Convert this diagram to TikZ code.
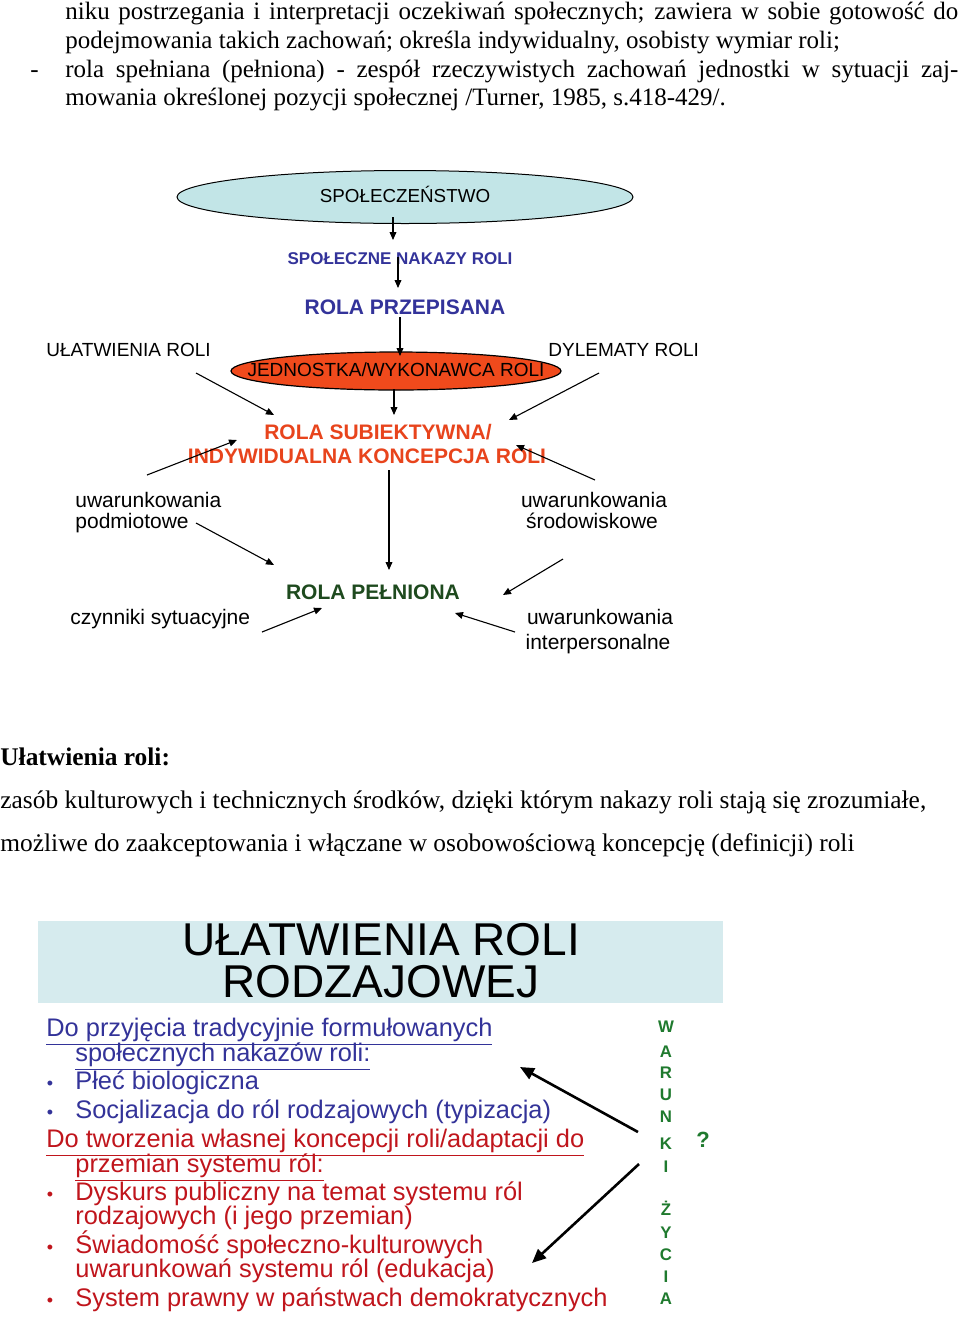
\documentclass[tikz,border=0pt]{standalone}
\usepackage{fontspec}
\setmainfont{Liberation Serif}
\newfontfamily\arial{Liberation Sans}
\usetikzlibrary{shapes.geometric,arrows.meta}

\definecolor{Society}{HTML}{C2E5E7}
\definecolor{Unit}{HTML}{F04A1C}
\definecolor{Nakaz}{HTML}{33339A}
\definecolor{Subj}{HTML}{E8441C}
\definecolor{Peln}{HTML}{1E4A1E}
\definecolor{BoxFill}{HTML}{D6EBEE}
\definecolor{ListBlue}{HTML}{333399}
\definecolor{ListRed}{HTML}{C0151C}
\definecolor{Warunki}{HTML}{1F7A2E}

\begin{document}
\begin{tikzpicture}[x=0.5pt, y=-0.5pt,
  every node/.style={inner sep=0pt, text height=.72em, text depth=.22em},
  serif/.style={font=\fontsize{12.5}{14}\selectfont},
  serifb/.style={font=\fontsize{12.7}{14}\selectfont},
  lab/.style={font=\arial\fontsize{9.5}{11}\selectfont},
  small/.style={font=\arial\fontsize{10.5}{12}\selectfont},
  head/.style={font=\arial\bfseries\fontsize{10.5}{12}\selectfont},
  title/.style={font=\arial\fontsize{23}{26}\selectfont, text height=.72em, text depth=0pt},
  item/.style={font=\arial\fontsize{12.7}{14}\selectfont},
  dot/.style={font=\arial\fontsize{9}{10}\selectfont},
  letter/.style={font=\arial\bfseries\fontsize{8.4}{10}\selectfont, text=Warunki},
  arr/.style={-{Triangle[length=4pt,width=3.4pt]}, line width=0.55pt},
  bigarr/.style={-{Triangle[length=7pt,width=6pt]}, line width=1.3pt}]

 \fill [white] (0,0) rectangle (960,1318) ;
 \useasboundingbox (0,0) rectangle (960,1318) ;

 %%%%%%%%%% Tekst nad schematem %%%%%%%%%%
 \node [serif, anchor=west] (top1) at (65,14) {\makebox[446.5pt][s]{niku postrzegania i interpretacji oczekiwań społecznych; zawiera w sobie gotowość do}};
 \node [serif, anchor=west] (top2) at (65,43) {podejmowania takich zachowań; określa indywidualny, osobisty wymiar roli;};
 \node [serif, anchor=west] (dash) at (30,72) {-};
 \node [serif, anchor=west] (top3) at (65,72) {\makebox[446.5pt][s]{rola spełniana (pełniona) - zespół rzeczywistych zachowań jednostki w sytuacji zaj-}};
 \node [serif, anchor=west] (top4) at (65,100) {mowania określonej pozycji społecznej /Turner, 1985, s.418-429/.};

 %%%%%%%%%% Schemat %%%%%%%%%%
 \node [ellipse, draw, fill=Society, line width=0.5pt, minimum width=228pt, minimum height=26.5pt, font=\arial\fontsize{9.4}{11}\selectfont] (society) at (405,197) {SPOŁECZEŃSTWO};
 \node [font=\arial\bfseries\fontsize{8.5}{10}\selectfont, text=Nakaz] (nakazy) at (400,259) {SPOŁECZNE NAKAZY ROLI};
 \node [head, text=Nakaz] (przepis) at (405,309) {ROLA PRZEPISANA};
 \node [ellipse, draw, fill=Unit, line width=0.6pt, minimum width=165pt, minimum height=19pt, lab] (unit) at (396,371) {\makebox[0pt]{JEDNOSTKA/WYKONAWCA ROLI}};
 \node [lab, anchor=west] (ulatw) at (46,351) {UŁATWIENIA ROLI};
 \node [lab, anchor=west] (dylem) at (548,351) {DYLEMATY ROLI};
 \node [head, text=Subj] (subj1) at (378,434) {ROLA SUBIEKTYWNA/};
 \node [head, text=Subj] (subj2) at (367,458) {INDYWIDUALNA KONCEPCJA ROLI};
 \node [small, anchor=west] (pod1) at (75,502) {uwarunkowania};
 \node [small, anchor=west] (pod2) at (75,523) {podmiotowe};
 \node [small] (sro1) at (594,502) {uwarunkowania};
 \node [small] (sro2) at (592,523) {środowiskowe};
 \node [head, text=Peln] (peln) at (373,594) {ROLA PEŁNIONA};
 \node [small, anchor=west] (czyn) at (70,619) {czynniki sytuacyjne};
 \node [small] (int1) at (600,619) {uwarunkowania};
 \node [small] (int2) at (598,644) {interpersonalne};

 %%%%%%%%%% Punkty strzalek %%%%%%%%%%
 \coordinate (a1) at (393,217);  \coordinate (b1) at (393,240);
 \coordinate (a2) at (398,257);  \coordinate (b2) at (398,288);
 \coordinate (a3) at (400,317);  \coordinate (b3) at (400,356);
 \coordinate (a4) at (196,373);  \coordinate (b4) at (274,415);
 \coordinate (a5) at (599,373);  \coordinate (b5) at (509,420);
 \coordinate (a6) at (394,389);  \coordinate (b6) at (394,415);
 \coordinate (a7) at (147,475);  \coordinate (b7) at (237,440);
 \coordinate (a8) at (595,480);  \coordinate (b8) at (516,445);
 \coordinate (a9) at (389,470);  \coordinate (b9) at (389,570);
 \coordinate (a10) at (196,523); \coordinate (b10) at (274,565);
 \coordinate (a11) at (563,559); \coordinate (b11) at (503,595);
 \coordinate (a12) at (262,632); \coordinate (b12) at (322,608);
 \coordinate (a13) at (515,632); \coordinate (b13) at (455,613);

 \foreach \i in {1,...,13}
 {
   \draw [arr] (a\i) -- (b\i) ;
 }

 %%%%%%%%%% Ulatwienia roli %%%%%%%%%%
 \node [font=\bfseries\fontsize{12.7}{14}\selectfont, anchor=west] (ulhead) at (0,760) {Ułatwienia roli:};
 \node [serifb, anchor=west] (zasob) at (0,803) {zasób kulturowych i technicznych środków, dzięki którym nakazy roli stają się zrozumiałe,};
 \node [serifb, anchor=west] (mozl) at (0,846) {możliwe do zaakceptowania i włączane w osobowościową koncepcję (definicji) roli};

 %%%%%%%%%% Ramka rodzajowa %%%%%%%%%%
 \fill [BoxFill] (38,921) rectangle (723,1003) ;
 \node [title] (tit1) at (381,948) {UŁATWIENIA ROLI};
 \node [title] (tit2) at (381,990) {RODZAJOWEJ};

 \node [item, anchor=west, text=ListBlue] (przyj1) at (46,1031) {\underline{Do przyjęcia tradycyjnie formułowanych}};
 \node [item, anchor=west, text=ListBlue] (przyj2) at (75,1056) {\underline{społecznych nakazów roli:}};
 \node [dot, text=ListBlue] (dot1) at (50,1084) {•};
 \node [item, anchor=west, text=ListBlue] (plec) at (75,1084) {Płeć biologiczna};
 \node [dot, text=ListBlue] (dot2) at (50,1113) {•};
 \node [item, anchor=west, text=ListBlue] (socj) at (75,1113) {Socjalizacja do ról rodzajowych (typizacja)};
 \node [item, anchor=west, text=ListRed] (tworz1) at (46,1142) {\underline{Do tworzenia własnej koncepcji roli/adaptacji do}};
 \node [item, anchor=west, text=ListRed] (tworz2) at (75,1167) {\underline{przemian systemu ról:}};
 \node [dot, text=ListRed] (dot3) at (50,1195) {•};
 \node [item, anchor=west, text=ListRed] (dysk1) at (75,1195) {Dyskurs publiczny na temat systemu ról};
 \node [item, anchor=west, text=ListRed] (dysk2) at (75,1219) {rodzajowych (i jego przemian)};
 \node [dot, text=ListRed] (dot4) at (50,1248) {•};
 \node [item, anchor=west, text=ListRed] (swiad1) at (75,1248) {Świadomość społeczno-kulturowych};
 \node [item, anchor=west, text=ListRed] (swiad2) at (75,1272) {uwarunkowań systemu ról (edukacja)};
 \node [dot, text=ListRed] (dot5) at (50,1301) {•};
 \node [item, anchor=west, text=ListRed] (prawo) at (75,1301) {System prawny w państwach demokratycznych};

 %%%%%%%%%% WARUNKI ZYCIA %%%%%%%%%%
 \foreach \l/\y [count=\k] in {W/1027, A/1052, R/1073, U/1095, N/1117, K/1144, I/1167, Ż/1210, Y/1233, C/1255, I/1277, A/1299}
 {
   \node [letter] (war\k) at (666,\y) {\l};
 }
 \node [font=\arial\bfseries\fontsize{11}{12}\selectfont, text=Warunki] (pyt) at (703,1142) {?};

 \coordinate (c1) at (638,1132); \coordinate (d1) at (520,1067);
 \coordinate (c2) at (639,1164); \coordinate (d2) at (532,1263);
 \draw [bigarr] (c1) -- (d1) ;
 \draw [bigarr] (c2) -- (d2) ;

\end{tikzpicture}
\end{document}
